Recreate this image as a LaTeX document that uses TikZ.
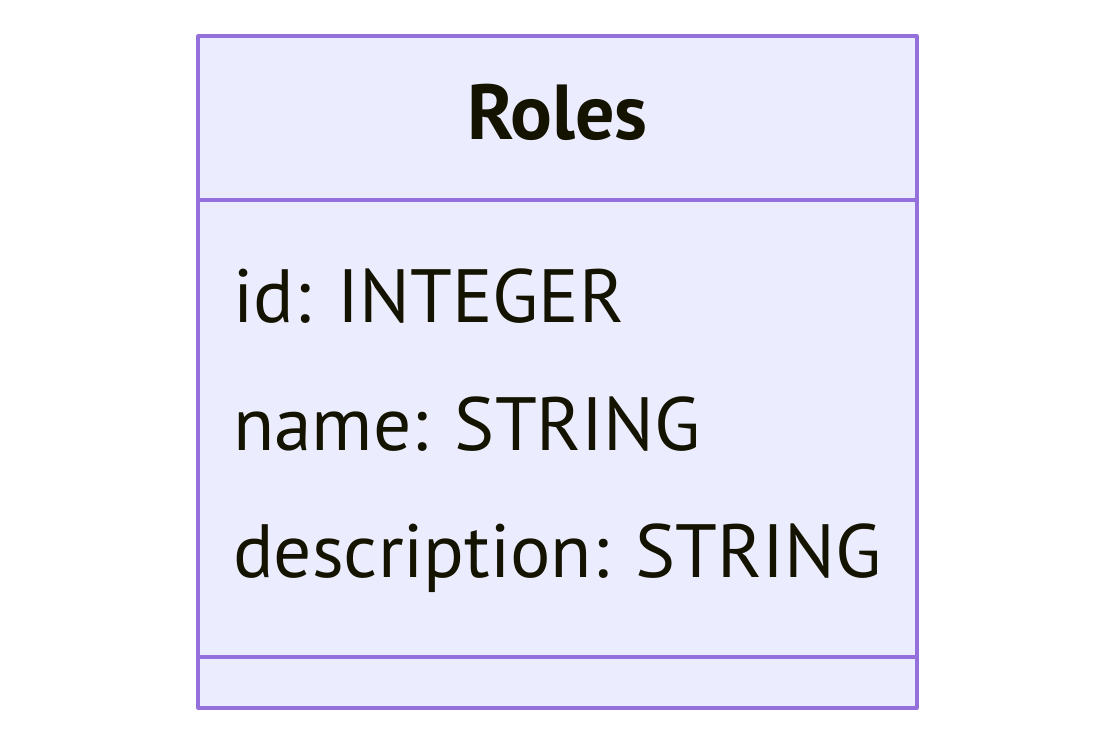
\documentclass[tikz,border=0pt]{standalone}
\usepackage{fontspec}
\setmainfont{PT Sans}
\definecolor{boxfill}{HTML}{ECECFF}
\definecolor{boxline}{HTML}{9370DB}
\definecolor{ink}{HTML}{131300}
\begin{document}
\begin{tikzpicture}[x=0.75pt,y=-0.75pt, line join=round,
	member/.style={anchor=base west, inner sep=0pt, text=ink, font=\fontsize{56.6}{60}\selectfont},
	title/.style={anchor=base, inner sep=0pt, text=ink, font=\fontsize{58.5}{60}\selectfont\bfseries}]
		\def\xl{198} \def\xr{917} % Box
		\def\yt{36} \def\yb{708}
		\def\yh{200} \def\ym{657}
		\useasboundingbox (0,0) rectangle (1116,744);
		\fill[white] (0,0) rectangle (1116,744);
		\draw[boxline, fill=boxfill, line width=2.4pt] (\xl,\yt) rectangle (\xr,\yb);
		\draw[boxline, line width=2.4pt] (\xl,\yh)--(\xr,\yh);
		\draw[boxline, line width=2.4pt] (\xl,\ym)--(\xr,\ym);
		\node[title] (roles) at ({(\xl+\xr)/2},139) {Roles};
		\node[member] (id) at (233,322) {id: INTEGER};
		\node[member] (name) at (233,450) {name: STRING};
		\node[member] (desc) at (233,577) {description: STRING};
	\end{tikzpicture}
\end{document}
